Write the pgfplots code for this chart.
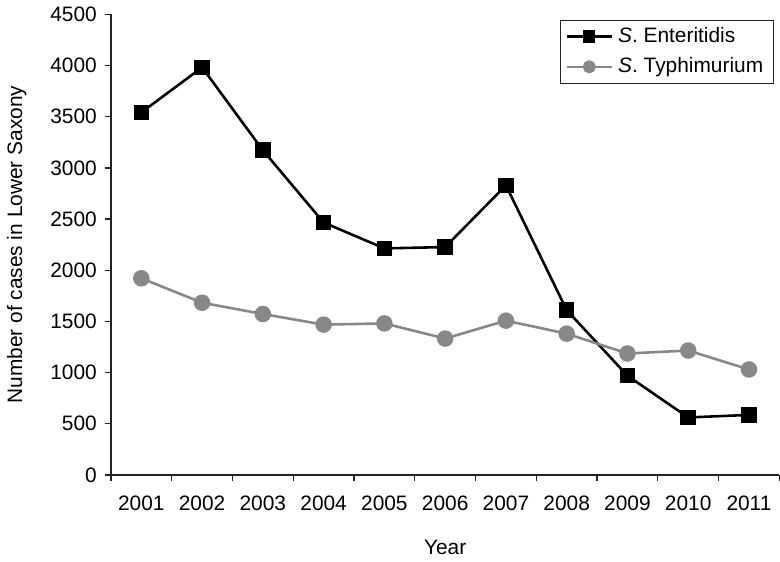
\documentclass[border=0pt]{standalone}
\usepackage{fontspec}
\setmainfont{Liberation Sans}
\usepackage{pgfplots}
\pgfplotsset{compat=1.18}
\definecolor{typhi}{HTML}{888888}
\definecolor{axisgray}{HTML}{222222}
\newcommand{\chartfont}{\fontsize{21bp}{25bp}\selectfont}
\begin{document}
\chartfont
\begin{tikzpicture}
\begin{axis}[
    scale only axis, width=672bp, height=463bp,
    xmin=0.5, xmax=11.5, ymin=0, ymax=4500,
    axis lines=left,
    axis line style={-, line width=1.3bp, axisgray},
    xtick={1,...,11},
    xticklabels={2001,2002,2003,2004,2005,2006,2007,2008,2009,2010,2011},
    major x tick style={draw=none},
    minor xtick={0.5,1.5,...,11.5},
    ytick distance=500,
    tick align=outside,
    major tick length=6bp, minor tick length=6bp,
    every tick/.style={line width=1.3bp, axisgray},
    /pgf/number format/assume math mode=true,
    /pgf/number format/1000 sep={},
    tick label style={font=\chartfont},
    xticklabel style={yshift=-8bp},
    yticklabel style={xshift=-1bp},
    xlabel={Year}, ylabel={Number of cases in Lower Saxony},
    label style={font=\chartfont},
    xlabel style={at={(axis description cs:0.5,-0.158)}, anchor=center},
    ylabel style={at={(axis description cs:-0.141,0.5)}, anchor=center},
    legend style={at={(0.991,0.987)}, anchor=north east,
        draw=axisgray, font=\chartfont,
        inner xsep=5bp, inner ysep=5bp, row sep=8bp,
        nodes={inner xsep=5bp}},
    legend cell align=left,
    legend image code/.code={
        \draw[line width=2.6bp, mark repeat=2, mark phase=2, every mark/.append style={scale=0.75}]
            plot coordinates {(0cm,0cm) (0.8cm,0cm) (1.6cm,0cm)};
    },
]
\addplot[black, line width=2.6bp, mark=square*, mark size=6.5bp, mark options={solid}]
    coordinates {(1,3541) (2,3982) (3,3172) (4,2466) (5,2213) (6,2226) (7,2829) (8,1610) (9,969) (10,561) (11,586)};
\addlegendentry{\textit{S}. Enteritidis}
\addplot[typhi, line width=2.6bp, mark=*, mark size=7bp, mark options={solid}]
    coordinates {(1,1921) (2,1682) (3,1572) (4,1468) (5,1480) (6,1332) (7,1507) (8,1380) (9,1186) (10,1215) (11,1030)};
\addlegendentry{\textit{S}. Typhimurium}
\end{axis}
\end{tikzpicture}
\end{document}
